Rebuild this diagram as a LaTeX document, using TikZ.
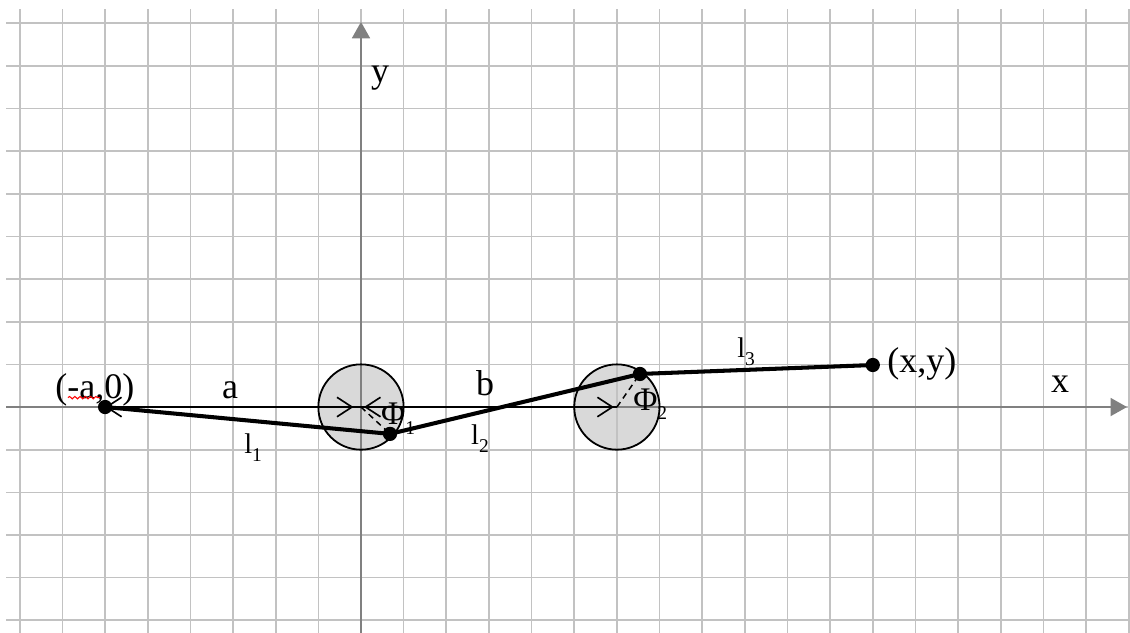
\documentclass[tikz,border=0pt]{standalone}
\usepackage{fontspec}
\setmainfont{Liberation Serif}
\usetikzlibrary{arrows.meta,decorations.pathmorphing}
\newcommand{\mysub}[1]{\raisebox{-0.28em}{\fontsize{13}{13}\selectfont #1}}
\begin{document}
\begin{tikzpicture}[
  gridline/.style={draw=gray!48, line width=1.1pt},
  axisline/.style={draw=gray, line width=1.3pt, -{Triangle[length=11pt,width=12pt]}},
  lbl/.style={font=\fontsize{24}{28}\selectfont, inner sep=0pt, anchor=base},
  llbl/.style={font=\fontsize{19}{22}\selectfont, inner sep=0pt, anchor=base},
  dot/.style={circle, fill=black, inner sep=0pt, minimum size=9.5pt},
  link/.style={line width=2.7pt, line cap=round, line join=round},
  thinline/.style={line width=1.1pt},
  dimtips/.style={line width=1.1pt, {Straight Barb[length=10pt,width=13pt]}-{Straight Barb[length=10pt,width=13pt]}},
  radline/.style={line width=1pt, dash pattern=on 4pt off 3pt},
  disk/.style={fill=gray!30},
  rim/.style={draw=black, line width=1.2pt},
]
\useasboundingbox (-8.464,-5.275) rectangle (18.03,9.543);
\fill[white] (-8.464,-5.275) rectangle (18.03,9.543);

% key points
\coordinate (O) at (0,0);
\coordinate (C2) at (6,0);
\coordinate (A) at (-6,0);
\coordinate (P1) at (0.68,-0.63);
\coordinate (P2) at (6.54,0.775);
\coordinate (E) at (12,0.985);

% disks (fill under grid)
\fill[disk] (O) circle (1);
\fill[disk] (C2) circle (1);

% grid
\foreach \x in {-8,...,18} \draw[gridline] (\x,-5.3) -- (\x,9.33);
\foreach \y in {-5,...,9} \draw[gridline] (-8.32,\y) -- (18.1,\y);

% axes
\coordinate (xs) at (-8.32,0);
\coordinate (xe) at (17.96,0);
\coordinate (ys) at (0,-5.3);
\coordinate (ye) at (0,9.03);
\draw[axisline] (xs) -- (xe);
\draw[axisline] (ys) -- (ye);

% disk rims
\draw[rim] (O) circle (1);
\draw[rim] (C2) circle (1);

% dimension lines a and b
\draw[thinline] (A) -- (C2);
\draw[dimtips, shorten >=5pt] (A) -- (O);
\draw[dimtips, shorten <=2pt, shorten >=2pt] (O) -- (C2);

% dashed radii
\draw[radline] (O) -- (P1);
\draw[radline] (C2) -- (P2);

% joints
\node[dot] (dA) at (A) {};
\node[dot] (dP1) at (P1) {};
\node[dot] (dP2) at (P2) {};
\node[dot] (dE) at (E) {};

% links
\draw[link] (dA.center) -- (dP1.center) -- (dP2.center) -- (dE.center);

% labels
\node[lbl] (tA) at (-6.24,0.21) {(-a,0)};
\draw[red, line width=0.7pt, decorate, decoration={snake, amplitude=0.8pt, segment length=3.5pt}] (-6.87,0.22) -- (-6.12,0.22);
\node[lbl] (ta) at (-3.07,0.21) {a};
\node[lbl] (tb) at (2.91,0.28) {b};
\node[lbl] (txy) at (13.15,0.80) {(x,y)};
\node[lbl] (tx) at (16.39,0.33) {x};
\node[lbl] (ty) at (0.45,7.62) {y};
\node[llbl] (tl1) at (-2.53,-1.08) {l\mysub{1}};
\node[llbl] (tl2) at (2.79,-0.89) {l\mysub{2}};
\node[llbl] (tl3) at (9.03,1.17) {l\mysub{3}};
\node[lbl, font=\fontsize{22}{26}\selectfont] (tf1) at (0.87,-0.42) {Φ\mysub{1}};
\node[lbl, font=\fontsize{22}{26}\selectfont] (tf2) at (6.78,-0.07) {Φ\mysub{2}};
\end{tikzpicture}
\end{document}
